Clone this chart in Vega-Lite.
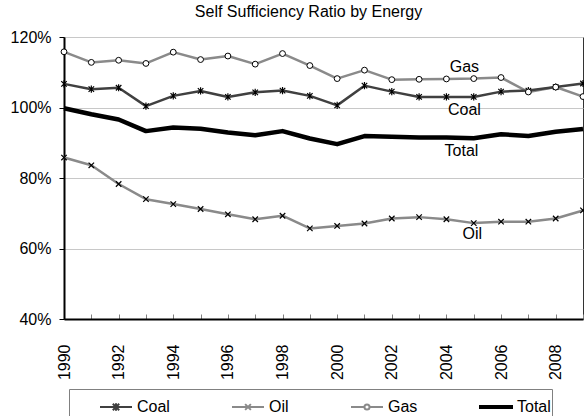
{
  "$schema": "https://vega.github.io/schema/vega-lite/v6.json",
  "autosize": "none",
  "width": 519,
  "height": 282,
  "padding": {"left": 64, "top": 37, "right": 1, "bottom": 97},
  "background": "white",
  "title": {"text": "Self Sufficiency Ratio by Energy", "fontSize": 16, "font": "Liberation Sans", "fontWeight": "normal", "color": "black", "anchor": "middle", "dx": -15, "offset": 9},
  "config": {
    "view": {"stroke": "#333333", "strokeWidth": 1},
    "font": "Liberation Sans"
  },
  "data": {"values": [
    {"series":"Coal","year":1990,"value":106.7},{"series":"Coal","year":1991,"value":105.2},{"series":"Coal","year":1992,"value":105.6},{"series":"Coal","year":1993,"value":100.4},{"series":"Coal","year":1994,"value":103.3},{"series":"Coal","year":1995,"value":104.7},{"series":"Coal","year":1996,"value":103.0},{"series":"Coal","year":1997,"value":104.3},{"series":"Coal","year":1998,"value":104.8},{"series":"Coal","year":1999,"value":103.3},{"series":"Coal","year":2000,"value":100.6},{"series":"Coal","year":2001,"value":106.2},{"series":"Coal","year":2002,"value":104.5},{"series":"Coal","year":2003,"value":103.0},{"series":"Coal","year":2004,"value":103.0},{"series":"Coal","year":2005,"value":103.0},{"series":"Coal","year":2006,"value":104.5},{"series":"Coal","year":2007,"value":104.8},{"series":"Coal","year":2008,"value":105.8},{"series":"Coal","year":2009,"value":106.8},
    {"series":"Oil","year":1990,"value":85.8},{"series":"Oil","year":1991,"value":83.6},{"series":"Oil","year":1992,"value":78.3},{"series":"Oil","year":1993,"value":74.0},{"series":"Oil","year":1994,"value":72.6},{"series":"Oil","year":1995,"value":71.2},{"series":"Oil","year":1996,"value":69.7},{"series":"Oil","year":1997,"value":68.3},{"series":"Oil","year":1998,"value":69.3},{"series":"Oil","year":1999,"value":65.7},{"series":"Oil","year":2000,"value":66.4},{"series":"Oil","year":2001,"value":67.1},{"series":"Oil","year":2002,"value":68.5},{"series":"Oil","year":2003,"value":68.9},{"series":"Oil","year":2004,"value":68.3},{"series":"Oil","year":2005,"value":67.2},{"series":"Oil","year":2006,"value":67.6},{"series":"Oil","year":2007,"value":67.6},{"series":"Oil","year":2008,"value":68.5},{"series":"Oil","year":2009,"value":70.8},
    {"series":"Gas","year":1990,"value":115.8},{"series":"Gas","year":1991,"value":112.8},{"series":"Gas","year":1992,"value":113.4},{"series":"Gas","year":1993,"value":112.5},{"series":"Gas","year":1994,"value":115.7},{"series":"Gas","year":1995,"value":113.6},{"series":"Gas","year":1996,"value":114.6},{"series":"Gas","year":1997,"value":112.3},{"series":"Gas","year":1998,"value":115.3},{"series":"Gas","year":1999,"value":111.9},{"series":"Gas","year":2000,"value":108.2},{"series":"Gas","year":2001,"value":110.6},{"series":"Gas","year":2002,"value":107.9},{"series":"Gas","year":2003,"value":108.0},{"series":"Gas","year":2004,"value":108.1},{"series":"Gas","year":2005,"value":108.2},{"series":"Gas","year":2006,"value":108.5},{"series":"Gas","year":2007,"value":104.4},{"series":"Gas","year":2008,"value":105.8},{"series":"Gas","year":2009,"value":103.1},
    {"series":"Total","year":1990,"value":99.8},{"series":"Total","year":1991,"value":98.1},{"series":"Total","year":1992,"value":96.6},{"series":"Total","year":1993,"value":93.3},{"series":"Total","year":1994,"value":94.3},{"series":"Total","year":1995,"value":94.0},{"series":"Total","year":1996,"value":92.9},{"series":"Total","year":1997,"value":92.1},{"series":"Total","year":1998,"value":93.3},{"series":"Total","year":1999,"value":91.2},{"series":"Total","year":2000,"value":89.6},{"series":"Total","year":2001,"value":91.9},{"series":"Total","year":2002,"value":91.7},{"series":"Total","year":2003,"value":91.5},{"series":"Total","year":2004,"value":91.5},{"series":"Total","year":2005,"value":91.3},{"series":"Total","year":2006,"value":92.4},{"series":"Total","year":2007,"value":91.9},{"series":"Total","year":2008,"value":93.1},{"series":"Total","year":2009,"value":93.9}
  ]},
  "encoding": {
    "x": {"field": "year", "type": "quantitative",
      "scale": {"domain": [1990, 2009], "nice": false, "zero": false},
      "axis": {"title": null, "values": [1990,1991,1992,1993,1994,1995,1996,1997,1998,1999,2000,2001,2002,2003,2004,2005,2006,2007,2008,2009],
        "format": "d", "labelExpr": "datum.value % 2 === 0 ? datum.label : ''",
        "labelAngle": -90, "labelAlign": "right", "labelBaseline": "middle",
        "labelFontSize": 16, "labelColor": "black", "labelFont": "Liberation Sans", "labelPadding": 30,
        "tickSize": -5, "tickColor": "#808080", "tickWidth": 1,
        "domainColor": "black", "domainWidth": 2, "grid": false, "labelOverlap": false, "labelFlush": false}},
    "y": {"field": "value", "type": "quantitative",
      "scale": {"domain": [40, 120], "nice": false, "zero": false},
      "axis": {"title": null, "values": [40,60,80,100,120], "labelExpr": "datum.value + '%'",
        "labelFontSize": 16, "labelColor": "black", "labelFont": "Liberation Sans", "labelPadding": 8,
        "tickSize": 5, "tickColor": "black", "domainColor": "black", "domainWidth": 2,
        "grid": true, "gridColor": "#c8c8c8", "gridWidth": 1}}
  },
  "layer": [
    {
      "transform": [{"filter": "datum.series === 'Gas'"}],
      "mark": {"type": "line", "strokeJoin": "round", "stroke": "#8a8a8a", "strokeWidth": 2.5},
      "encoding": {}
    },
    {
      "transform": [{"filter": "datum.series === 'Coal'"}],
      "mark": {"type": "line", "strokeJoin": "round", "stroke": "#404040", "strokeWidth": 2.5},
      "encoding": {}
    },
    {
      "transform": [{"filter": "datum.series === 'Oil'"}],
      "mark": {"type": "line", "strokeJoin": "round", "stroke": "#8a8a8a", "strokeWidth": 2.5},
      "encoding": {}
    },
    {
      "transform": [{"filter": "datum.series === 'Total'"}],
      "mark": {"type": "line", "strokeJoin": "round", "stroke": "#000000", "strokeWidth": 4.5},
      "encoding": {}
    },
    {
      "transform": [{"filter": "datum.series === 'Coal'"}],
      "mark": {"type": "point", "filled": true, "fill": "white", "stroke": "black", "strokeWidth": 1.2, "opacity": 1, "size": 30,
        "shape": "M-1,-1L1,1M-1,1L1,-1M0,-1.3V1.3"},
      "encoding": {}
    },
    {
      "transform": [{"filter": "datum.series === 'Oil'"}],
      "mark": {"type": "point", "filled": true, "fill": "white", "stroke": "black", "strokeWidth": 1.2, "opacity": 1, "size": 30,
        "shape": "M-1,-1L1,1M-1,1L1,-1"},
      "encoding": {}
    },
    {
      "transform": [{"filter": "datum.series === 'Gas'"}],
      "mark": {"type": "point", "filled": true, "fill": "white", "stroke": "black", "strokeWidth": 1, "opacity": 1, "size": 34, "shape": "circle"},
      "encoding": {}
    },
    {
      "data": {"values": [
        {"label": "Gas", "year": 2004.66, "value": 111.5},
        {"label": "Coal", "year": 2004.66, "value": 99.3},
        {"label": "Total", "year": 2004.55, "value": 87.7},
        {"label": "Oil", "year": 2004.95, "value": 64.1}
      ]},
      "mark": {"type": "text", "fontSize": 16, "font": "Liberation Sans", "align": "center", "baseline": "middle", "color": "black"},
      "encoding": {"text": {"field": "label", "type": "nominal"}}
    },
    {
      "mark": {"type": "point", "filled": false, "strokeWidth": 2, "opacity": 0},
      "encoding": {
        "color": {"field": "series", "type": "nominal",
          "scale": {"domain": ["Coal","Oil","Gas","Total"], "range": ["#404040","#8a8a8a","#8a8a8a","#000000"]},
          "legend": {"title": "\u00a0", "titleOrient": "left", "titleFontSize": 4, "titlePadding": 29,
            "orient": "none", "legendX": 5, "legendY": 352, "direction": "horizontal",
            "strokeColor": "#808080", "padding": 1, "fillColor": "white", "symbolOpacity": 1,
            "symbolSize": 1024, "symbolStrokeWidth": 2, "labelOffset": 4, "columnPadding": 58,
            "labelFontSize": 16, "labelFont": "Liberation Sans", "labelColor": "black"}},
        "shape": {"field": "series", "type": "nominal",
          "scale": {"domain": ["Coal","Oil","Gas","Total"],
            "range": ["M-1,0H1M-0.2,-0.2L0.2,0.2M-0.2,0.2L0.2,-0.2M0,-0.24V0.24",
                      "M-1,0H1M-0.18,-0.18L0.18,0.18M-0.18,0.18L0.18,-0.18",
                      "M-1,0H-0.16M0.16,0H1M0.16,0A0.16,0.16 0 1,1 -0.16,0A0.16,0.16 0 1,1 0.16,0",
                      "M-1,-0.06H1V0.06H-1Z"]},
          "legend": {"title": "\u00a0", "titleOrient": "left", "titleFontSize": 4, "titlePadding": 29,
            "orient": "none", "legendX": 5, "legendY": 352, "direction": "horizontal",
            "strokeColor": "#808080", "padding": 1, "fillColor": "white", "symbolOpacity": 1,
            "symbolSize": 1024, "symbolStrokeWidth": 2, "labelOffset": 4, "columnPadding": 58,
            "labelFontSize": 16, "labelFont": "Liberation Sans", "labelColor": "black"}}
      }
    }
  ]
}
